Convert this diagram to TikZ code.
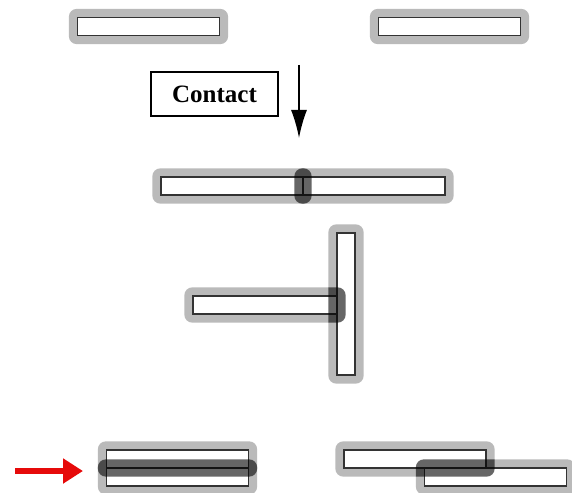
\documentclass[tikz,border=0pt]{standalone}
\usepackage{fontspec}
\setmainfont{Liberation Serif}
\definecolor{PushRed}{RGB}{230,10,10}
\usetikzlibrary{arrows.meta,fit,backgrounds}
\tikzset{>=Latex}
\tikzset{rod/.style={draw=black!80,fill=white,line width=1.3pt,minimum width=142pt,minimum height=18pt,inner sep=0pt}}
\tikzset{vrod/.style={rod,minimum width=18pt,minimum height=142pt}}
\tikzset{halo/.style={fill=black!27,rounded corners=8pt,inner sep=8pt,outer sep=0pt}}
\tikzset{overlap/.style={fill=black,fill opacity=0.6,rounded corners=8pt}}
\tikzset{labelbox/.style={draw,line width=1.2pt,minimum width=127pt,minimum height=44pt,font=\fontsize{25}{30}\selectfont\bfseries}}
% darken the part two halos share
\newcommand{\overlapof}[2]{%
    \begin{scope}
        \clip[rounded corners=8pt] (#1.south west) rectangle (#1.north east);
        \fill[overlap] (#2.south west) rectangle (#2.north east);
    \end{scope}}

\begin{document}
\begin{tikzpicture}[x=1pt,y=-1pt]
                \useasboundingbox (0,0) rectangle (572,492);
                % free rods
                \node[rod] (tl) at (148.5,26.5) {};
                \node[rod] (tr) at (449.5,26.5) {};
                \node[labelbox] (contact) at (214.5,94) {Contact};
                \coordinate (down1) at (299,65);
                \coordinate (down2) at (299,138);
                \draw[-{Latex[length=28pt,width=16pt]},line width=1.6pt] (down1) -- (down2);
                % end to end
                \node[rod] (ml) at (232,186) {};
                \node[rod] (mr) at (374,186) {};
                % end to side
                \node[vrod] (tv) at (346,304) {};
                \node[rod,minimum width=144pt] (th) at (265,305) {};
                % side by side
                \node[rod] (bl1) at (177.5,459) {};
                \node[rod] (bl2) at (177.5,477) {};
                \node[rod] (br1) at (415,459) {};
                \node[rod] (br2) at (495.5,477) {};
                \coordinate (push1) at (15,471);
                \coordinate (push2) at (83,471);
                \draw[-{Triangle[length=20pt,width=24pt]},line width=6pt,PushRed] (push1) -- (push2);
                \begin{scope}[on background layer]
                    \fill[white] (0,0) rectangle (572,492);
                    \foreach \r in {tl,tr,ml,mr,tv,th,bl1,bl2,br1,br2}
                        \node[halo,fit=(\r)] (\r-h) {};
                \end{scope}
                \overlapof{ml-h}{mr-h}
                \overlapof{tv-h}{th-h}
                \overlapof{bl1-h}{bl2-h}
                \overlapof{br1-h}{br2-h}
            \end{tikzpicture}
\end{document}
